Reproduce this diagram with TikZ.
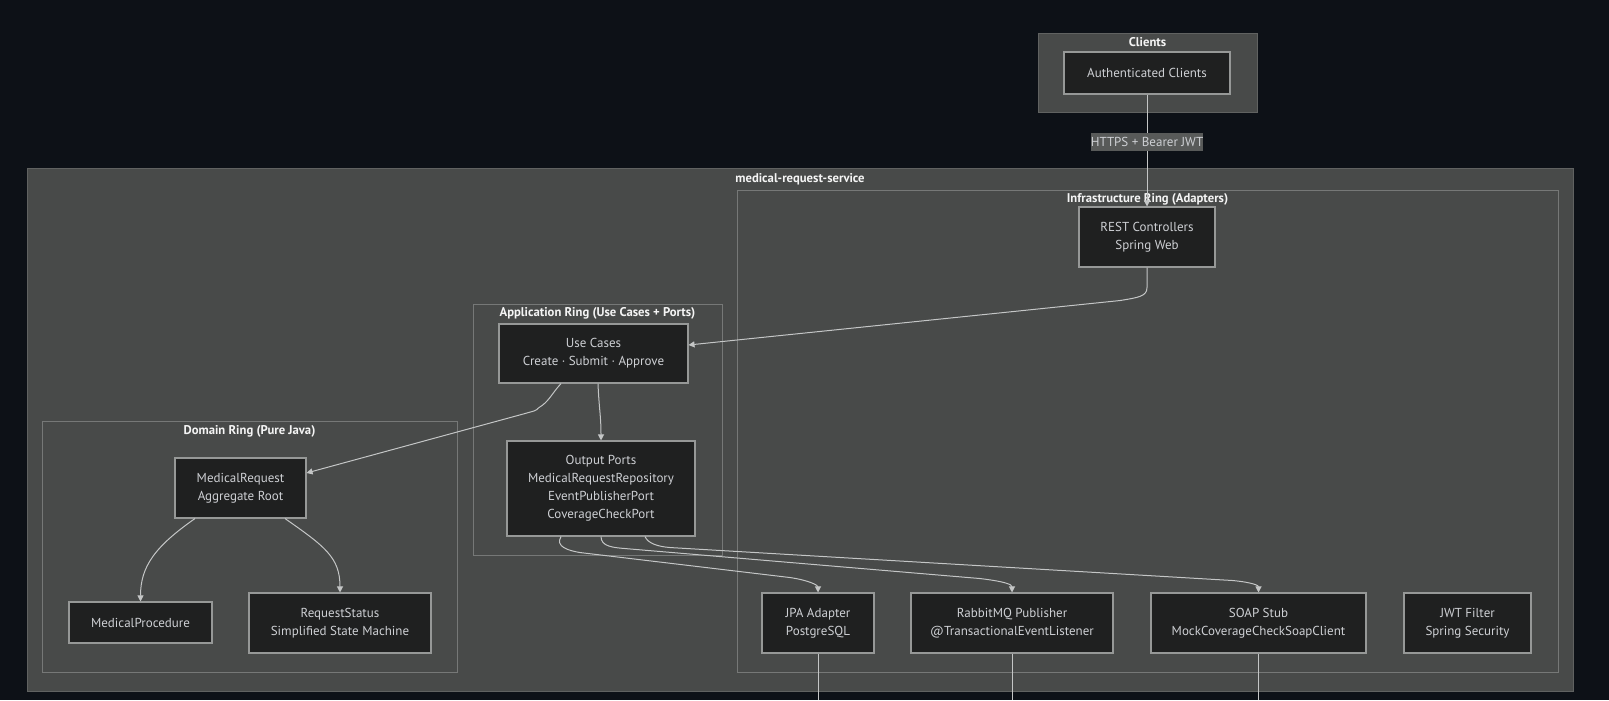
\documentclass[tikz,border=0pt]{standalone}
\usepackage{fontspec}
\setmainfont{PT Sans}
\usetikzlibrary{arrows.meta,calc}
\definecolor{BgColor}{RGB}{13,17,23}
\definecolor{RingFill}{RGB}{72,74,73}
\definecolor{RingLine}{RGB}{118,120,119}
\definecolor{OuterLine}{RGB}{96,98,97}
\definecolor{BoxFill}{RGB}{31,32,32}
\definecolor{BoxLine}{RGB}{150,152,151}
\definecolor{TextColor}{RGB}{206,208,212}
\definecolor{TitleColor}{RGB}{244,244,244}
\definecolor{EdgeColor}{RGB}{196,198,198}
\definecolor{LblFill}{RGB}{88,90,89}
\begin{document}
\begin{tikzpicture}[x=0.75pt,y=-0.75pt,
  every node/.style={align=center,font=\fontsize{9.75}{13.5}\selectfont,text=TextColor,inner sep=0pt},
  wh/.style 2 args={minimum width=#1*0.75pt,minimum height=#2*0.75pt},
  box/.style={draw=BoxLine,fill=BoxFill,line width=0.8pt},
  ring/.style={draw=RingLine,fill=RingFill,line width=0.75pt},
  outer/.style={draw=OuterLine,fill=RingFill,line width=0.75pt},
  ringtitle/.style={text=TitleColor,font=\fontsize{9.5}{12}\selectfont\bfseries},
  lbl/.style={fill=LblFill,wh={111}{18}},
  arr/.style={draw=EdgeColor,line width=0.75pt,-{Triangle[length=4.5pt,width=4.5pt]}},
  lnk/.style={draw=EdgeColor,line width=0.75pt}]
\fill[BgColor] (0,0) rectangle (1609,700);
\useasboundingbox (0,0) rectangle (1609,700);
% clusters
\node[outer,wh={219}{79}] (clients) at (1147.5,72.5) {};
\node[outer,wh={1546}{523}] (service) at (800,429.5) {};
\node[ring,wh={821}{482}] (infra) at (1147.5,431) {};
\node[ring,wh={249}{251}] (app) at (597.5,429.5) {};
\node[ring,wh={415}{251}] (domain) at (249.5,546.5) {};
\node[ringtitle] (clientstitle) at ($(clients.north)+(0,10)$) {Clients};
\node[ringtitle] (servicetitle) at ($(service.north)+(0,11.5)$) {medical-request-service};
\node[ringtitle] (infratitle) at ($(infra.north)+(0,10)$) {Infrastructure Ring (Adapters)};
\node[ringtitle] (apptitle) at ($(app.north)+(0,10)$) {Application Ring (Use Cases + Ports)};
\node[ringtitle] (domaintitle) at ($(domain.north)+(0,11)$) {Domain Ring (Pure Java)};
% components
\node[box,wh={166}{42}] (auth) at (1147,73) {Authenticated Clients};
\node[box,wh={136}{60}] (rest) at (1147,237) {REST Controllers\\Spring Web};
\node[box,wh={189}{59}] (usecases) at (593.5,353.5) {Use Cases\\Create · Submit · Approve};
\node[box,wh={188}{95}] (outports) at (601,488.5) {Output Ports\\MedicalRequestRepository\\EventPublisherPort\\CoverageCheckPort};
\node[box,wh={131}{60}] (medreq) at (240.5,488) {MedicalRequest\\Aggregate Root};
\node[box,wh={143}{41}] (medproc) at (140.5,622.5) {MedicalProcedure};
\node[box,wh={182}{60}] (reqstatus) at (340,623) {RequestStatus\\Simplified State Machine};
\node[box,wh={112}{60}] (jpa) at (818,623) {JPA Adapter\\PostgreSQL};
\node[box,wh={202}{60}] (rabbit) at (1012,623) {RabbitMQ Publisher\\@TransactionalEventListener};
\node[box,wh={215}{60}] (soap) at (1258.5,623) {SOAP Stub\\MockCoverageCheckSoapClient};
\node[box,wh={127}{60}] (jwt) at (1467.5,623) {JWT Filter\\Spring Security};
% connectors
\draw[arr] (auth) -- node[lbl,pos=0.42] (httpslbl) {HTTPS + Bearer JWT} (rest);
\draw[arr] (rest.south) -- ++(0,20) .. controls +(0,9) and +(18,-3) .. ++(-27,13)
  -- ($(usecases.east)+(0,-8.5)$);
\draw[arr] ($(usecases.south)+(-32.5,0)$) .. controls +(-10,11) and +(10,-6) .. ++(-22,24)
  .. controls +(-4,4) and +(10,-3) .. ++(-14,6) -- ($(medreq.east)+(0,-15)$);
\draw[arr] ($(usecases.south)+(4.5,0)$) .. controls +(1,25) and +(0,-25) .. (outports.north);
\draw[arr] ($(medreq.south)+(-45.5,0)$) .. controls +(-40,28) and +(0,-35) .. (medproc.north);
\draw[arr] ($(medreq.south)+(44.5,0)$) .. controls +(40,28) and +(0,-35) .. (reqstatus.north);
\draw[arr] ($(outports.south)+(-40,0)$) .. controls +(-6,10) and +(-12,-2) .. ++(19,16)
  -- ++(210,25) .. controls +(20,3) and +(0,-7) .. (jpa.north);
\draw[arr] (outports.south) .. controls +(0,10) and +(-12,-1) .. ++(24,12)
  -- ++(355,30) .. controls +(25,3) and +(0,-8) .. (rabbit.north);
\draw[arr] ($(outports.south)+(44,0)$) .. controls +(3,7) and +(-12,-1) .. ++(25,11)
  -- ++(563,33) .. controls +(20,2) and +(0,-7) .. (soap.north);
\foreach \n in {jpa,rabbit,soap} {
  \coordinate (\n exit) at (\n.south |- 0,700);
  \draw[lnk] (\n) -- (\n exit);
}
\end{tikzpicture}
\end{document}
